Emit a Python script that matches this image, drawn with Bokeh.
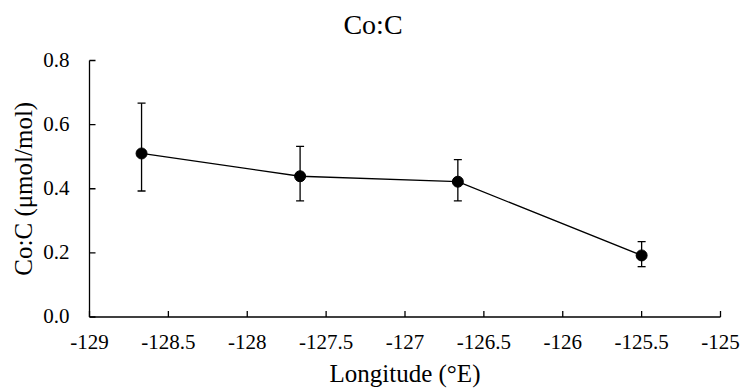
import math
from bokeh.plotting import figure
from bokeh.models import ColumnDataSource, Whisker, Range1d
from bokeh.core.properties import value
from bokeh.embed import file_html
from bokeh.resources import INLINE

# Data
longitude = [-128.67, -127.665, -126.665, -125.5]
co_c = [0.51, 0.439, 0.422, 0.192]
err_upper = [0.667, 0.532, 0.491, 0.235]
err_lower = [0.393, 0.362, 0.362, 0.157]
x_ticks = [-129, -128.5, -128, -127.5, -127, -126.5, -126, -125.5, -125]
y_ticks = [0.0, 0.2, 0.4, 0.6, 0.8]
x_tick_labels = ["-129", "-128.5", "-128", "-127.5", "-127", "-126.5", "-126", "-125.5", "-125"]
y_tick_labels = ["0.0", "0.2", "0.4", "0.6", "0.8"]
title_text = "Co:C"
x_label = "Longitude (°E)"
y_label = "Co:C (μmol/mol)"

FONT = "Liberation Serif"

# Layout (pixels within the canvas)
W, H = 743, 389
L, R, T, B = 89, 720, 60, 316.5

x0, x1 = x_ticks[0], x_ticks[-1]
y0, y1 = y_ticks[0], y_ticks[-1]
sx = (R - L) / (x1 - x0)
sy = (B - T) / (y1 - y0)
xr = Range1d(x0 - L / sx, x1 + (W - R) / sx)
yr = Range1d(y0 - (H - B) / sy, y1 + T / sy)

def dx(px):
    return xr.start + px / sx

def dy(py):
    return yr.end - py / sy

src = ColumnDataSource(dict(x=longitude, y=co_c, upper=err_upper, lower=err_lower))

p = figure(width=W, height=H, output_backend="svg", toolbar_location=None,
           x_range=xr, y_range=yr, min_border=0)
p.axis.visible = False
p.grid.visible = False
p.outline_line_color = None
p.background_fill_color = "white"
p.border_fill_color = "white"

# axes
p.line([x0, x1], [y0, y0], line_color="black", line_width=1.3)
p.line([x0, x0], [y0, y1], line_color="black", line_width=1.3)
p.ray(x=x_ticks, y=[y0] * len(x_ticks), length=6, length_units="screen",
      angle=math.pi / 2, line_color="black", line_width=1.3)
p.ray(x=[x0] * len(y_ticks), y=y_ticks, length=6, length_units="screen",
      angle=0, line_color="black", line_width=1.3)

# tick labels
p.text(x=x_ticks, y=[y0] * len(x_ticks), text=x_tick_labels, y_offset=25,
       text_align="center", text_baseline="alphabetic",
       text_font=value(FONT), text_font_size="21px", text_color="black")
p.text(x=[x0] * len(y_ticks), y=y_ticks, text=y_tick_labels, x_offset=-20, y_offset=-1,
       text_align="right", text_baseline="alphabetic",
       text_font=value(FONT), text_font_size="21px", text_color="black")

# axis labels and title
p.text(x=[(x0 + x1) / 2], y=[y0], text=[x_label], y_offset=56.5,
       text_align="center", text_baseline="alphabetic",
       text_font=value(FONT), text_font_size="25px", text_color="black")
p.text(x=[x0], y=[(y0 + y1) / 2], text=[y_label], x_offset=-66.5, angle=math.pi / 2,
       text_align="center", text_baseline="alphabetic",
       text_font=value(FONT), text_font_size="25px", text_color="black")
p.text(x=[dx(372.5)], y=[dy(23.5)], text=[title_text],
       text_align="center", text_baseline="alphabetic",
       text_font=value(FONT), text_font_size="28px", text_color="black")

# data
p.line("x", "y", source=src, line_color="black", line_width=1.3)
w = Whisker(source=src, base="x", upper="upper", lower="lower", dimension="height",
            line_color="black", line_width=1.3)
for h in (w.upper_head, w.lower_head):
    h.size = 8
    h.line_color = "black"
    h.line_width = 1.3
p.add_layout(w)
p.scatter("x", "y", source=src, size=11, fill_color="black", line_color="black")

open("out.html", "w").write(file_html(p, INLINE))
